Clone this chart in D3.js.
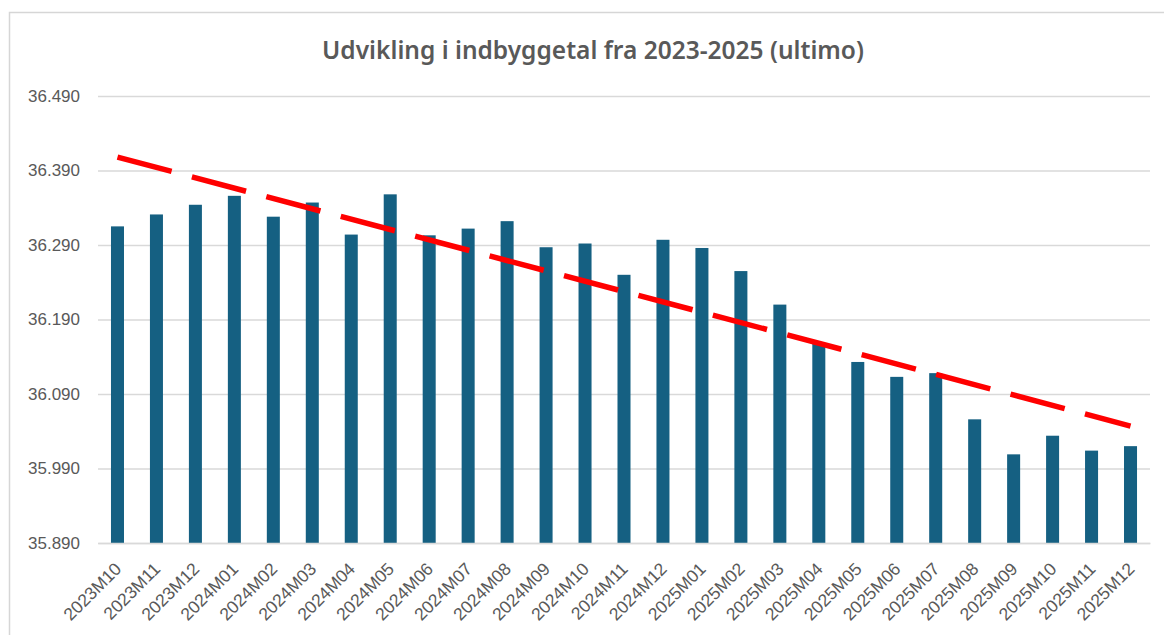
<!DOCTYPE html>
<html>
<head>
<meta charset="utf-8">
<script src="https://cdn.jsdelivr.net/npm/d3@7"></script>
<style>
  html, body { margin: 0; padding: 0; background: #fff; }
  svg { display: block; }
</style>
</head>
<body>
<div class="canvas"></div>
<script>
// data
const months = ['2023M10','2023M11','2023M12','2024M01','2024M02','2024M03','2024M04','2024M05','2024M06',
  '2024M07','2024M08','2024M09','2024M10','2024M11','2024M12','2025M01','2025M02','2025M03','2025M04',
  '2025M05','2025M06','2025M07','2025M08','2025M09','2025M10','2025M11','2025M12']
const population = [36315, 36331, 36344, 36356, 36328, 36347, 36304, 36358, 36303,
  36312, 36322, 36287, 36292, 36250, 36297, 36286, 36255, 36210, 36158,
  36133, 36113, 36118, 36056, 36009, 36034, 36014, 36020]
const yTicks = [35890, 35990, 36090, 36190, 36290, 36390, 36490]
const trendValues = [36408, 36047]   // trendline at first and last month
const title = 'Udvikling i indbyggetal fra 2023-2025 (ultimo)'

const dimensions = { width: 1164, height: 635 }
const margin = { top: 96, right: 14, bottom: 92, left: 98 }
const graphWidth = dimensions.width - margin.left - margin.right
const graphHeight = dimensions.height - margin.top - margin.bottom

const da = d3.formatLocale({ decimal: ',', thousands: '.', grouping: [3], currency: ['', ' kr.'] })
const fmt = da.format(',')

const svg = d3.select('.canvas')
  .append('svg')
  .attr('width', dimensions.width)
  .attr('height', dimensions.height)

// chart frame
svg.append('rect')
  .attr('x', 9.5).attr('y', 12.5)
  .attr('width', 1170).attr('height', 650)
  .attr('fill', 'none')
  .attr('stroke', '#d6d6d6')
  .attr('stroke-width', 1.5)

svg.append('text')
  .attr('x', 593).attr('y', 59)
  .attr('text-anchor', 'middle')
  .attr('font-family', '"Noto Sans", Lato, sans-serif')
  .attr('font-weight', 600)
  .attr('font-size', 24.5)
  .attr('fill', '#595959')
  .text(title)

const graph = svg.append('g')
  .attr('transform', `translate(${margin.left}, ${margin.top})`)

const y = d3.scaleLinear()
  .domain([yTicks[0], yTicks[yTicks.length - 1]])
  .range([graphHeight, 0])

const x = d3.scaleBand()
  .domain(months)
  .range([0, graphWidth])
  .paddingInner(0.666)
  .paddingOuter(0.333)

// gridlines + y labels
const yAxis = d3.axisLeft(y)
  .tickValues(yTicks)
  .tickSize(-graphWidth)
  .tickPadding(18)
  .tickFormat(fmt)

const yAxisGroup = graph.append('g').call(yAxis)
yAxisGroup.select('.domain').remove()
yAxisGroup.selectAll('.tick line')
  .attr('stroke', '#d9d9d9')
  .attr('stroke-width', 1.3)
yAxisGroup.selectAll('.tick text')
  .attr('font-family', '"Liberation Sans", Arial, sans-serif')
  .attr('font-size', 17)
  .attr('fill', '#595959')

// bars
graph.selectAll('rect.bar')
  .data(population)
  .enter()
  .append('rect')
  .attr('class', 'bar')
  .attr('x', (d, i) => x(months[i]))
  .attr('y', d => y(d))
  .attr('width', x.bandwidth())
  .attr('height', d => graphHeight - y(d))
  .attr('fill', '#156082')

// x axis
const xAxis = d3.axisBottom(x).tickSize(0).tickPadding(0)
const xAxisGroup = graph.append('g')
  .attr('transform', `translate(0, ${graphHeight})`)
  .call(xAxis)
xAxisGroup.select('.domain')
  .attr('stroke', '#d9d9d9')
  .attr('stroke-width', 1.5)
xAxisGroup.selectAll('text')
  .attr('font-family', '"Liberation Sans", Arial, sans-serif')
  .attr('font-size', 17.5)
  .attr('fill', '#595959')
  .attr('text-anchor', 'end')
  .attr('dy', null)
  .attr('y', 0)
  .attr('transform', 'translate(5, 27) rotate(-45)')

// trendline
const first = months[0], last = months[months.length - 1]
graph.append('line')
  .attr('x1', x(first) + x.bandwidth() / 2)
  .attr('x2', x(last) + x.bandwidth() / 2)
  .attr('y1', y(trendValues[0]))
  .attr('y2', y(trendValues[1]))
  .attr('stroke', '#ff0000')
  .attr('stroke-width', 5.5)
  .attr('stroke-dasharray', '56,21')
</script>
</body>
</html>
